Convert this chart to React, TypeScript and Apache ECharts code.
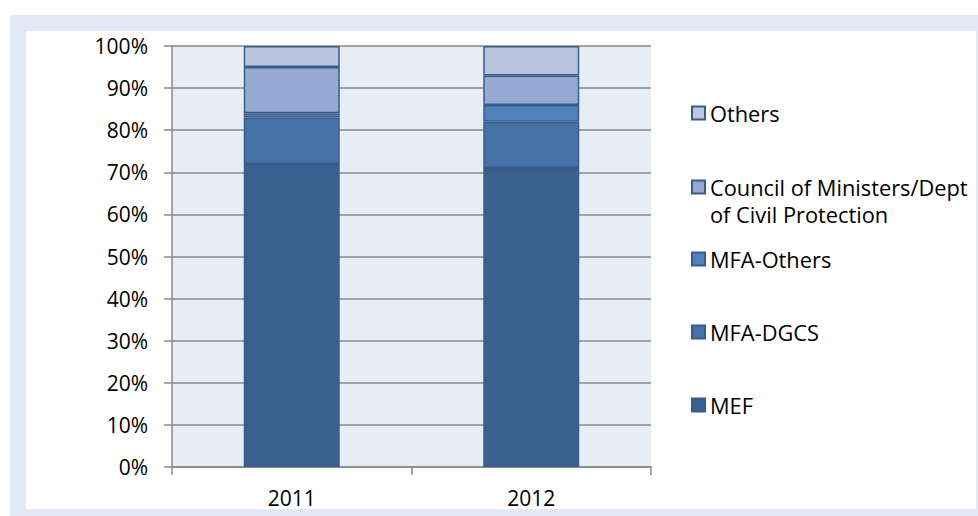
import React, { useEffect, useRef } from "react";
import * as echarts from "echarts";

const years = ["2011", "2012"];
const seriesNames = [
  "MEF",
  "MFA-DGCS",
  "MFA-Others",
  "Council of Ministers/Dept of Civil Protection",
  "Others",
];
const mef = [72, 71];
const mfaDgcs = [11, 11];
const mfaOthers = [1, 4];
const council = [11, 7];
const others = [5, 7];
const yTicks = [0, 10, 20, 30, 40, 50, 60, 70, 80, 90, 100];

const values = [mef, mfaDgcs, mfaOthers, council, others];
const fills = ["#3b5f8e", "#4572a7", "#4f81bd", "#95a9d3", "#b9c6e0"];
const FONT = "'Open Sans', sans-serif";
const FS = 21;
const LFS = 21.8;

// legend icon centers (top to bottom): Others, Council, MFA-Others, MFA-DGCS, MEF
const legendCenters = [113, 187, 259, 332, 405];
const LH = 27;

export default function App() {
  const ref = useRef<HTMLDivElement>(null);
  useEffect(() => {
    if (!ref.current) return;
    const chart = echarts.init(ref.current, null, { renderer: "svg" });
    const legendOrder = [4, 3, 2, 1, 0];
    const legends = legendOrder.map((si, i) => {
      const isCouncil = si === 3;
      return {
        show: true,
        orient: "vertical",
        left: 691,
        top: isCouncil ? legendCenters[i] - 1.5 * LH : legendCenters[i] - LH / 2,
        padding: 0,
        itemWidth: 13,
        itemHeight: 13,
        itemGap: 0,
        icon: "rect",
        selectedMode: false,
        data: [seriesNames[si]],
        formatter: isCouncil
          ? () => "\nCouncil of Ministers/Dept\nof Civil Protection"
          : undefined,
        textStyle: {
          fontFamily: FONT,
          fontSize: LFS,
          color: "#000",
          lineHeight: LH,
        },
      };
    });
    chart.setOption({
      animation: false,
      graphic: [
        {
          type: "rect",
          z: -10,
          silent: true,
          shape: { x: 10, y: 15, width: 968, height: 501 },
          style: { fill: "#e3e9f4" },
        },
        {
          type: "rect",
          z: -9,
          silent: true,
          shape: { x: 26, y: 31, width: 950, height: 478 },
          style: { fill: "#ffffff" },
        },
      ],
      grid: {
        left: 172,
        top: 46,
        width: 479,
        height: 421,
        show: true,
        backgroundColor: "#e8ecf5",
        borderWidth: 0,
      },
      legend: legends,
      xAxis: {
        type: "category",
        data: years,
        axisLine: { lineStyle: { color: "#888888", width: 1.5 } },
        axisTick: { show: true, length: 8, lineStyle: { color: "#888888", width: 1.5 } },
        axisLabel: { color: "#000", fontFamily: FONT, fontSize: FS, margin: 20 },
      },
      yAxis: {
        type: "value",
        min: yTicks[0],
        max: yTicks[yTicks.length - 1],
        interval: yTicks[1] - yTicks[0],
        axisLine: { show: true, lineStyle: { color: "#888888", width: 1.5 } },
        axisTick: { show: true, length: 8, lineStyle: { color: "#888888", width: 1.5 } },
        splitLine: { show: true, lineStyle: { color: "#8a8a8a", width: 1.5 } },
        axisLabel: {
          color: "#000",
          fontFamily: FONT,
          fontSize: FS,
          margin: 24,
          formatter: "{value}%",
        },
      },
      series: values.map((v, i) => ({
        name: seriesNames[i],
        type: "bar",
        stack: "total",
        barWidth: 96,
        data: v,
        itemStyle: {
          color: fills[i],
          borderColor: "#385d8a",
          borderWidth: 1.5,
        },
      })),
    });
    return () => chart.dispose();
  }, []);
  return (
    <div
      ref={ref}
      style={{ position: "absolute", left: 0, top: 0, width: 978, height: 516, background: "#fff" }}
    />
  );
}
